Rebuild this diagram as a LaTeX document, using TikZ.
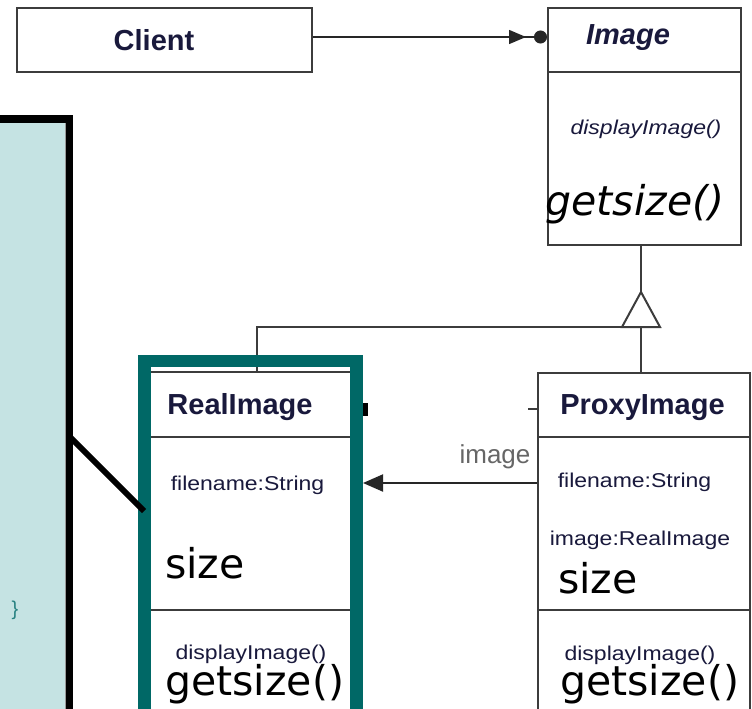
\documentclass[tikz,border=0pt]{standalone}
\usepackage{fontspec}
\usetikzlibrary{arrows.meta}
\newfontfamily\umlfont{Liberation Sans}
\newfontfamily\bigfont{DejaVu Sans}
\definecolor{umlink}{RGB}{25,25,60}
\definecolor{umlline}{RGB}{60,60,60}
\definecolor{tealframe}{RGB}{0,104,102}
\definecolor{tealpanel}{RGB}{197,227,227}
\definecolor{tealcode}{RGB}{40,130,130}
\newcommand{\wide}[1]{\scalebox{1.15}[1]{#1}} % 横に伸ばした小さい文字
\tikzset{
  umlbox/.style={draw=umlline, line width=2pt, fill=white, inner sep=0pt},
  umledge/.style={draw=umlline, line width=2pt},
  umltitle/.style={font=\umlfont\bfseries\fontsize{29}{32}\selectfont, text=umlink},
  umlattr/.style={font=\umlfont\fontsize{20}{22}\selectfont, text=umlink},
  overtext/.style={font=\bigfont\fontsize{41}{45}\selectfont, anchor=base west, inner sep=0pt}
}
\begin{document}
\begin{tikzpicture}[x=1pt, y=-1pt] % 1単位 = 1px, y は下向き
  \useasboundingbox (0,0) rectangle (752,709); % 画像の大きさ

  % 左のパネル
  \fill[tealpanel] (-10,119) rectangle (66,720);
  \draw[black!40, line width=1pt] (65.5,123) -- (65.5,720);
  \draw[line width=7.5pt] (-10,119) -- (69.5,119) -- (69.5,720);
  \node[text=tealcode, font=\umlfont\fontsize{20}{22}\selectfont] (brace) at (15,610) {\}};

  % クラスの箱
  \node[umlbox, minimum width=295pt, minimum height=64pt] (client) at (164.5,40) {};
  \node[umlbox, minimum width=193pt, minimum height=237pt] (image) at (644.5,126.5) {};
  \node[umlbox, minimum width=202pt, minimum height=358pt] (real) at (251,551) {};
  \node[umlbox, minimum width=212pt, minimum height=357pt] (proxy) at (644,551.5) {};
  \draw[umledge] (image.west |- 0,72) -- (image.east |- 0,72); % 区切り線
  \foreach \y in {437,610}{
    \draw[umledge] (real.west |- 0,\y) -- (real.east |- 0,\y);
    \draw[umledge] (proxy.west |- 0,\y) -- (proxy.east |- 0,\y);
  }

  % 文字
  \node[umltitle] (clientname) at (154,40) {Client};
  \node[umltitle] (imagename) at (628,38) {\itshape Image};
  \node[umlattr] (imageop) at (646,129) {\wide{\itshape displayImage()}};
  \node[overtext, anchor=base] (imageget) at (635,215) {\itshape getsize()};

  \node[umltitle] (realname) at (240,407) {RealImage};
  \node[umlattr] (realfile) at (247.5,485) {\wide{filename:String}};
  \node[overtext] (realsize) at (165,578) {size};
  \node[umlattr] (realop) at (251,654) {\wide{displayImage()}};
  \node[overtext] (realget) at (165,695) {getsize()};

  \node[umltitle] (proxyname) at (642.5,408) {ProxyImage};
  \node[umlattr] (proxyfile) at (634.5,482) {\wide{filename:String}};
  \node[umlattr] (proxyreal) at (640,540) {\wide{image:RealImage}};
  \node[overtext] (proxysize) at (558,593) {size};
  \node[umlattr] (proxyop) at (640,655) {\wide{displayImage()}};
  \node[overtext] (proxyget) at (560,695) {getsize()};

  % 関連
  \draw[umledge, draw=black!85, line width=1.5pt,
    -{Triangle[length=17pt,width=14pt,sep=8pt] Circle[length=13pt]}]
    ([yshift=3pt]client.east) -- ([yshift=3pt]client.east -| image.west);

  % 汎化
  \coordinate (apex) at (641,292);
  \coordinate (tribase) at (641,327);
  \draw[umledge] (image.south -| apex) -- (apex);
  \draw[umledge] (proxy.north -| tribase) -- (tribase);
  \draw[umledge] (real.north -| 257,0) |- (tribase);
  \draw[umledge, fill=white] (apex) -- ++(19,35) -- ++(-38,0) -- cycle; % 三角

  % ProxyImage -> RealImage
  \coordinate (realtip) at (363,483);
  \draw[umledge, draw=black!85, -{Triangle[length=20pt,width=17pt]}] (proxy.west |- realtip) -- (realtip);
  \node[text=black!60, font=\umlfont\fontsize{26}{28}\selectfont] (imglabel) at (495,457) {image};
  \draw[umledge] (proxy.west |- 0,409) -- ++(-9,0); % 途切れた線
  \fill (363,403) rectangle (368,416);

  % 強調枠
  \draw[tealframe, line width=12.5pt] (144.5,361) rectangle (356.5,716);
  \draw[line width=6pt] (70,437) -- (144,511);
\end{tikzpicture}
\end{document}
